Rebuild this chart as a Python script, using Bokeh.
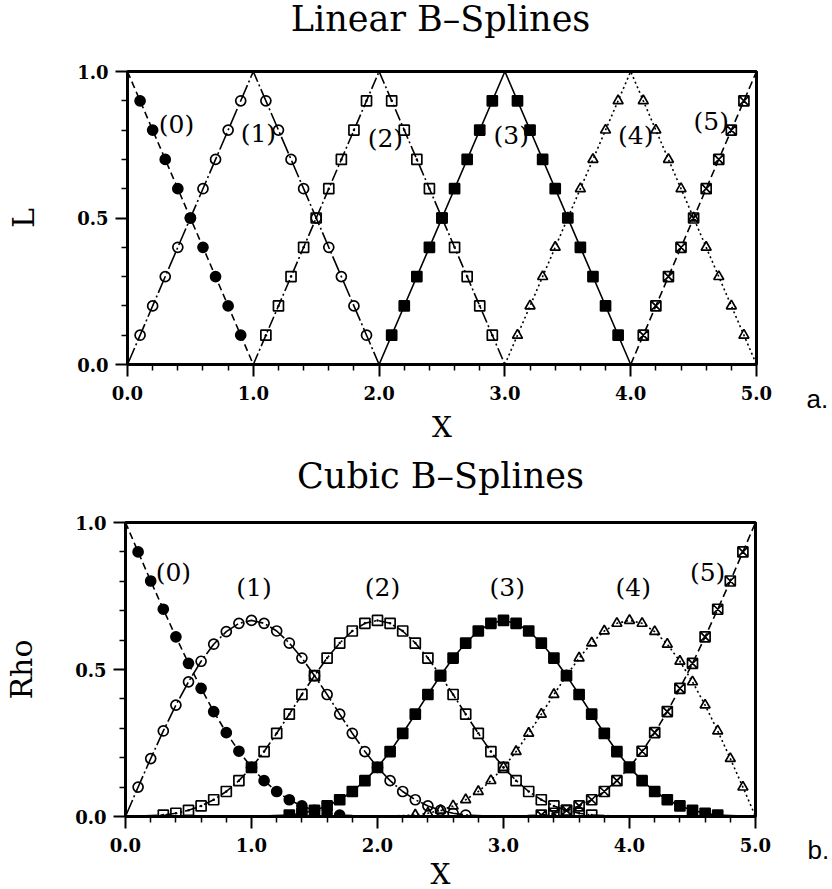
from bokeh.plotting import figure
from bokeh.layouts import column, row
from bokeh.models import Label, FixedTicker, PrintfTickFormatter, Range1d
from bokeh.embed import file_html
from bokeh.resources import INLINE

# ---------------- data: linear B-splines ----------------
lin_line_x = [[0.0, 1.0], [0.0, 1.0, 2.0], [1.0, 2.0, 3.0], [2.0, 3.0, 4.0], [3.0, 4.0, 5.0], [4.0, 5.0]]
lin_line_y = [[1.0, 0.0], [0.0, 1.0, 0.0], [0.0, 1.0, 0.0], [0.0, 1.0, 0.0], [0.0, 1.0, 0.0], [0.0, 1.0]]

lin0_x = [0.1, 0.2, 0.3, 0.4, 0.5, 0.6, 0.7, 0.8, 0.9]
lin0_y = [0.9, 0.8, 0.7, 0.6, 0.5, 0.4, 0.3, 0.2, 0.1]
lin1_x = [0.1, 0.2, 0.3, 0.4, 0.5, 0.6, 0.7, 0.8, 0.9, 1.1, 1.2, 1.3, 1.4, 1.5, 1.6, 1.7, 1.8, 1.9]
lin1_y = [0.1, 0.2, 0.3, 0.4, 0.5, 0.6, 0.7, 0.8, 0.9, 0.9, 0.8, 0.7, 0.6, 0.5, 0.4, 0.3, 0.2, 0.1]
lin2_x = [1.1, 1.2, 1.3, 1.4, 1.5, 1.6, 1.7, 1.8, 1.9, 2.1, 2.2, 2.3, 2.4, 2.5, 2.6, 2.7, 2.8, 2.9]
lin2_y = [0.1, 0.2, 0.3, 0.4, 0.5, 0.6, 0.7, 0.8, 0.9, 0.9, 0.8, 0.7, 0.6, 0.5, 0.4, 0.3, 0.2, 0.1]
lin3_x = [2.1, 2.2, 2.3, 2.4, 2.5, 2.6, 2.7, 2.8, 2.9, 3.1, 3.2, 3.3, 3.4, 3.5, 3.6, 3.7, 3.8, 3.9]
lin3_y = [0.1, 0.2, 0.3, 0.4, 0.5, 0.6, 0.7, 0.8, 0.9, 0.9, 0.8, 0.7, 0.6, 0.5, 0.4, 0.3, 0.2, 0.1]
lin4_x = [3.1, 3.2, 3.3, 3.4, 3.5, 3.6, 3.7, 3.8, 3.9, 4.1, 4.2, 4.3, 4.4, 4.5, 4.6, 4.7, 4.8, 4.9]
lin4_y = [0.1, 0.2, 0.3, 0.4, 0.5, 0.6, 0.7, 0.8, 0.9, 0.9, 0.8, 0.7, 0.6, 0.5, 0.4, 0.3, 0.2, 0.1]
lin5_x = [4.1, 4.2, 4.3, 4.4, 4.5, 4.6, 4.7, 4.8, 4.9]
lin5_y = [0.1, 0.2, 0.3, 0.4, 0.5, 0.6, 0.7, 0.8, 0.9]

# ---------------- data: cubic B-splines (first/last point = line ends) ----------------
cub0_x = [0.0, 0.1, 0.2, 0.3, 0.4, 0.5, 0.6, 0.7, 0.8, 0.9, 1.0, 1.1, 1.2, 1.3, 1.4, 1.5, 1.6, 1.7, 2.0]
cub0_y = [1.0, 0.900, 0.801, 0.705, 0.611, 0.521, 0.436, 0.357, 0.285, 0.222, 0.167, 0.122, 0.085,
          0.057, 0.036, 0.021, 0.011, 0.005, 0.0]
cub1_x = [0.0, 0.1, 0.2, 0.3, 0.4, 0.5, 0.6, 0.7, 0.8, 0.9, 1.0, 1.1, 1.2, 1.3, 1.4, 1.5, 1.6, 1.7,
          1.8, 1.9, 2.0, 2.1, 2.2, 2.3, 2.4, 2.5, 2.6, 2.7, 3.0]
cub1_y = [0.0, 0.100, 0.197, 0.291, 0.379, 0.458, 0.528, 0.586, 0.629, 0.657, 0.667, 0.657, 0.631,
          0.590, 0.539, 0.479, 0.415, 0.348, 0.283, 0.221, 0.167, 0.122, 0.085, 0.057, 0.036, 0.021,
          0.011, 0.005, 0.0]
cub2_x = [0.0, 0.3, 0.4, 0.5, 0.6, 0.7, 0.8, 0.9, 1.0, 1.1, 1.2, 1.3, 1.4, 1.5, 1.6, 1.7, 1.8, 1.9,
          2.0, 2.1, 2.2, 2.3, 2.4, 2.5, 2.6, 2.7, 2.8, 2.9, 3.0, 3.1, 3.2, 3.3, 3.4, 3.5, 3.6, 3.7, 4.0]
cub2_y = [0.0, 0.005, 0.011, 0.021, 0.036, 0.057, 0.085, 0.122, 0.167, 0.221, 0.283, 0.348, 0.415,
          0.479, 0.539, 0.590, 0.631, 0.657, 0.667, 0.657, 0.631, 0.590, 0.539, 0.479, 0.415, 0.348,
          0.283, 0.221, 0.167, 0.122, 0.085, 0.057, 0.036, 0.021, 0.011, 0.005, 0.0]
cub3_x = [1.0, 1.3, 1.4, 1.5, 1.6, 1.7, 1.8, 1.9, 2.0, 2.1, 2.2, 2.3, 2.4, 2.5, 2.6, 2.7, 2.8, 2.9,
          3.0, 3.1, 3.2, 3.3, 3.4, 3.5, 3.6, 3.7, 3.8, 3.9, 4.0, 4.1, 4.2, 4.3, 4.4, 4.5, 4.6, 4.7, 5.0]
cub3_y = [0.0, 0.005, 0.011, 0.021, 0.036, 0.057, 0.085, 0.122, 0.167, 0.221, 0.283, 0.348, 0.415,
          0.479, 0.539, 0.590, 0.631, 0.657, 0.667, 0.657, 0.631, 0.590, 0.539, 0.479, 0.415, 0.348,
          0.283, 0.221, 0.167, 0.122, 0.085, 0.057, 0.036, 0.021, 0.011, 0.005, 0.0]
cub4_x = [2.0, 2.3, 2.4, 2.5, 2.6, 2.7, 2.8, 2.9, 3.0, 3.1, 3.2, 3.3, 3.4, 3.5, 3.6, 3.7, 3.8, 3.9,
          4.0, 4.1, 4.2, 4.3, 4.4, 4.5, 4.6, 4.7, 4.8, 4.9, 5.0]
cub4_y = [0.0, 0.005, 0.011, 0.021, 0.036, 0.057, 0.085, 0.122, 0.167, 0.221, 0.283, 0.348, 0.415,
          0.479, 0.539, 0.590, 0.631, 0.657, 0.667, 0.657, 0.629, 0.586, 0.528, 0.458, 0.379, 0.291,
          0.197, 0.100, 0.0]
cub5_x = [3.0, 3.3, 3.4, 3.5, 3.6, 3.7, 3.8, 3.9, 4.0, 4.1, 4.2, 4.3, 4.4, 4.5, 4.6, 4.7, 4.8, 4.9, 5.0]
cub5_y = [0.0, 0.005, 0.011, 0.021, 0.036, 0.057, 0.085, 0.122, 0.167, 0.222, 0.285, 0.357, 0.436,
          0.521, 0.611, 0.705, 0.801, 0.900, 1.0]

curve_names = ["(0)", "(1)", "(2)", "(3)", "(4)", "(5)"]
lin_label_x = [0.39, 1.04, 2.05, 3.05, 4.04, 4.64]
lin_label_y = [0.82, 0.79, 0.77, 0.78, 0.78, 0.83]
cub_label_x = [0.38, 1.02, 2.04, 3.03, 4.03, 4.62]
cub_label_y = [0.83, 0.78, 0.78, 0.78, 0.78, 0.83]

x_major = [0.0, 1.0, 2.0, 3.0, 4.0, 5.0]
x_minor = [0.2, 0.4, 0.6, 0.8, 1.2, 1.4, 1.6, 1.8, 2.2, 2.4, 2.6, 2.8, 3.2, 3.4, 3.6, 3.8,
           4.2, 4.4, 4.6, 4.8]
y_major = [0.0, 0.5, 1.0]
y_minor = [0.1, 0.2, 0.3, 0.4, 0.6, 0.7, 0.8, 0.9]

# ---------------- styles ----------------
SERIF = "DejaVu Serif"
styles = [
    dict(dash="7 4", marker="circle", fill="black"),
    dict(dash="18 3 2 3", marker="circle", fill=None),
    dict(dash="12 3 2 3", marker="square_dot", fill=None),
    dict(dash="solid", marker="square", fill="black"),
    dict(dash="2 3", marker="triangle", fill=None),
    dict(dash="8 4", marker="square_x", fill=None),
]
draw_order = [2, 4, 1, 3, 5, 0]


def make_fig(xlabel, ylabel, frame_left, frame_top, frame_w, frame_h, total_w, total_h,
             xlabel_standoff, ylabel_standoff):
    p = figure(title=None, toolbar_location=None, output_backend="svg",
               frame_width=frame_w, frame_height=frame_h,
               x_range=Range1d(0, 5), y_range=Range1d(0, 1),
               min_border_left=frame_left, min_border_top=frame_top,
               min_border_right=total_w - frame_left - frame_w,
               min_border_bottom=total_h - frame_top - frame_h)
    p.grid.visible = False
    p.outline_line_color = "black"
    p.outline_line_width = 3
    p.outline_line_alpha = 1
    p.background_fill_color = "white"
    p.border_fill_color = "white"
    p.xaxis.ticker = FixedTicker(ticks=x_major, minor_ticks=x_minor)
    p.yaxis.ticker = FixedTicker(ticks=y_major, minor_ticks=y_minor)
    for ax in (p.xaxis[0], p.yaxis[0]):
        ax.formatter = PrintfTickFormatter(format="%.1f")
        ax.axis_line_width = 3
        ax.axis_line_color = "black"
        ax.major_tick_in = 0
        ax.major_tick_out = 12
        ax.minor_tick_in = 0
        ax.minor_tick_out = 6
        ax.major_tick_line_width = 2
        ax.minor_tick_line_width = 1.5
        ax.major_tick_line_color = "black"
        ax.minor_tick_line_color = "black"
        ax.major_label_text_font = SERIF
        ax.major_label_text_font_style = "bold"
        ax.major_label_text_font_size = "18px"
        ax.major_label_text_color = "black"
        ax.axis_label_text_font = SERIF
        ax.axis_label_text_font_style = "normal"
        ax.axis_label_text_color = "black"
    p.xaxis.major_label_standoff = 9
    p.yaxis.major_label_standoff = 7
    p.xaxis.axis_label = xlabel
    p.xaxis.axis_label_text_font_size = "28px"
    p.xaxis.axis_label_standoff = xlabel_standoff
    p.yaxis.axis_label = ylabel
    p.yaxis.axis_label_text_font_size = "30px"
    p.yaxis.axis_label_standoff = ylabel_standoff
    return p


def canvas(w, h):
    """A blank strip whose data units are pixels measured from its top-left corner."""
    q = figure(title=None, toolbar_location=None, output_backend="svg",
               frame_width=w, frame_height=h,
               x_range=Range1d(0, w), y_range=Range1d(h, 0),
               x_axis_type=None, y_axis_type=None,
               min_border_left=0, min_border_right=0, min_border_top=0, min_border_bottom=0)
    q.grid.visible = False
    q.outline_line_color = None
    q.border_fill_color = "white"
    q.background_fill_color = "white"
    return q


def put_text(q, x, y, text, size, font=SERIF, align="center", baseline="middle"):
    q.add_layout(Label(x=x, y=y, text=text, text_font=font, text_font_size=size,
                       text_align=align, text_baseline=baseline, text_color="black"))


def draw_curves(p, xs, ys, mxs, mys):
    for k in draw_order:
        st = styles[k]
        p.line(xs[k], ys[k], line_color="black", line_width=1.6, line_dash=st["dash"])
    for k in draw_order:
        st = styles[k]
        p.scatter(mxs[k], mys[k], marker=st["marker"], size=10, line_color="black",
                  line_width=1.7, fill_color=st["fill"] if st["fill"] else "white",
                  fill_alpha=1 if st["fill"] else 0)


def add_curve_labels(p, lx, ly):
    for k in range(6):
        p.add_layout(Label(x=lx[k], y=ly[k], text=curve_names[k], text_font=SERIF,
                           text_font_size="25px", text_align="center", text_baseline="middle",
                           text_color="black"))


W_ALL = 832
W_MAIN = 776
W_SIDE = W_ALL - W_MAIN
HT1 = 50      # title strip 1: page y 0-50
H1 = 398      # panel 1:       page y 50-448
HT2 = 52      # title strip 2: page y 448-500
H2 = 387      # panel 2:       page y 500-887

# ---------------- top panel ----------------
t1 = canvas(W_ALL, HT1)
put_text(t1, 440, 18, "Linear B\u2013Splines", "35px", baseline="alphabetic")
p1 = make_fig("X", "L", 127, 21, 629, 293, W_MAIN, H1, xlabel_standoff=8, ylabel_standoff=33)
lin_mx = [lin0_x, lin1_x, lin2_x, lin3_x, lin4_x, lin5_x]
lin_my = [lin0_y, lin1_y, lin2_y, lin3_y, lin4_y, lin5_y]
draw_curves(p1, lin_line_x, lin_line_y, lin_mx, lin_my)
add_curve_labels(p1, lin_label_x, lin_label_y)
pa = canvas(W_SIDE, H1)
put_text(pa, 30, 327, "a.", "26px", font="Liberation Sans", align="left")

# ---------------- bottom panel ----------------
t2 = canvas(W_ALL, HT2)
put_text(t2, 440, 27, "Cubic B\u2013Splines", "35px", baseline="alphabetic")
p2 = make_fig("X", "Rho", 125, 22, 630, 294, W_MAIN, H2, xlabel_standoff=3, ylabel_standoff=33)
cub_x = [cub0_x, cub1_x, cub2_x, cub3_x, cub4_x, cub5_x]
cub_y = [cub0_y, cub1_y, cub2_y, cub3_y, cub4_y, cub5_y]
cub_mx = [c[1:-1] for c in cub_x]
cub_my = [c[1:-1] for c in cub_y]
draw_curves(p2, cub_x, cub_y, cub_mx, cub_my)
add_curve_labels(p2, cub_label_x, cub_label_y)
pb = canvas(W_SIDE, H2)
put_text(pb, 31, 327, "b.", "26px", font="Liberation Sans", align="left")

layout = column(t1, row(p1, pa, spacing=0), t2, row(p2, pb, spacing=0), spacing=0)
open("out.html", "w").write(file_html(layout, INLINE))
